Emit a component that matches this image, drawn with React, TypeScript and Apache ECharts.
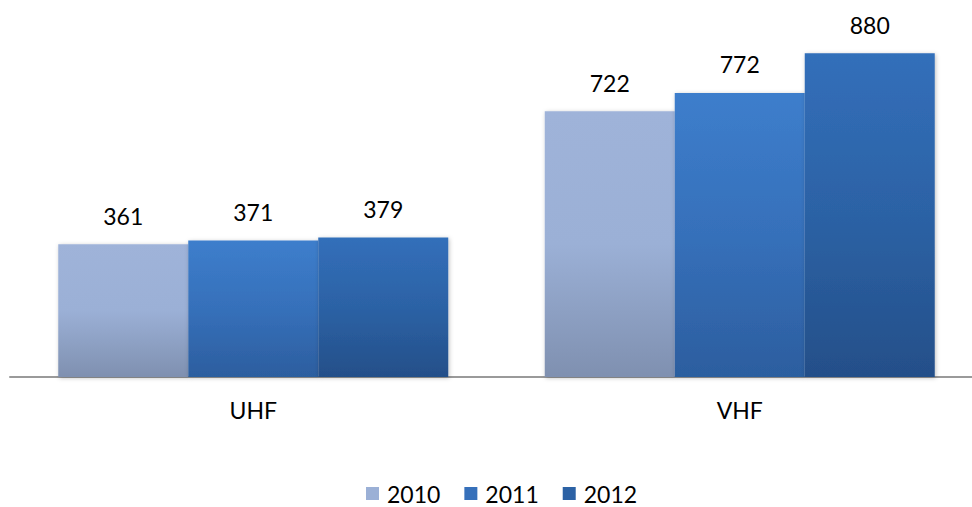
import React, { useEffect, useRef } from "react";
import * as echarts from "echarts";

const categories = ["UHF", "VHF"];
const seriesNames = ["2010", "2011", "2012"];
const values2010 = [361, 722];
const values2011 = [371, 772];
const values2012 = [379, 880];

const grad = (top: string, mid: string, bottom: string) =>
  new echarts.graphic.LinearGradient(0, 0, 0, 1, [
    { offset: 0, color: top },
    { offset: 0.5, color: mid },
    { offset: 1, color: bottom },
  ]);

export default function App() {
  const ref = useRef<HTMLDivElement>(null);
  useEffect(() => {
    if (!ref.current) return;
    const chart = echarts.init(ref.current, undefined, { renderer: "svg" });
    const font = "Lato, 'Open Sans', sans-serif";
    const fills = [
      grad("#9fb3d9", "#9bb0d6", "#7f90b0"),
      grad("#3d7ecc", "#3670ba", "#2c5e9f"),
      grad("#326fba", "#2c62a5", "#244f89"),
    ];
    const legendColors = ["#9bb0d6", "#3670ba", "#2c62a5"];
    const data = [values2010, values2011, values2012];
    chart.setOption({
      animation: false,
      grid: {
        left: 10,
        width: 973,
        top: 9,
        height: 368,
        containLabel: false,
        outerBoundsMode: "none",
      },
      legend: {
        top: 482,
        left: 366,
        padding: 0,
        itemWidth: 13,
        itemHeight: 13,
        itemGap: 24,
        icon: "rect",
        textStyle: { fontFamily: font, fontSize: 23, lineHeight: 22, color: "#000", padding: [0, 0, 0, 3] },
        data: seriesNames.map((n, i) => ({ name: n, itemStyle: { color: legendColors[i] } })),
      },
      xAxis: {
        type: "category",
        data: categories,
        axisLine: { lineStyle: { color: "#9a9a9a", width: 2 } },
        axisTick: { show: false },
        axisLabel: { fontFamily: font, fontSize: 23, color: "#000", margin: 21 },
      },
      yAxis: {
        type: "value",
        min: 0,
        max: 1000,
        show: false,
        splitLine: { show: false },
      },
      series: seriesNames.map((n, i) => ({
        name: n,
        type: "bar",
        data: data[i],
        barWidth: 130,
        barGap: "0%",
        itemStyle: {
          color: fills[i],
          shadowColor: "rgba(0,0,0,0.25)",
          shadowBlur: 4,
          shadowOffsetX: 1,
          shadowOffsetY: 1,
        },
        label: {
          show: true,
          position: "top",
          distance: 17,
          fontFamily: font,
          fontSize: 23,
          color: "#000",
        },
      })),
    });
    return () => chart.dispose();
  }, []);
  return <div ref={ref} style={{ width: 972, height: 507, position: "absolute", left: 0, top: 0 }} />;
}
